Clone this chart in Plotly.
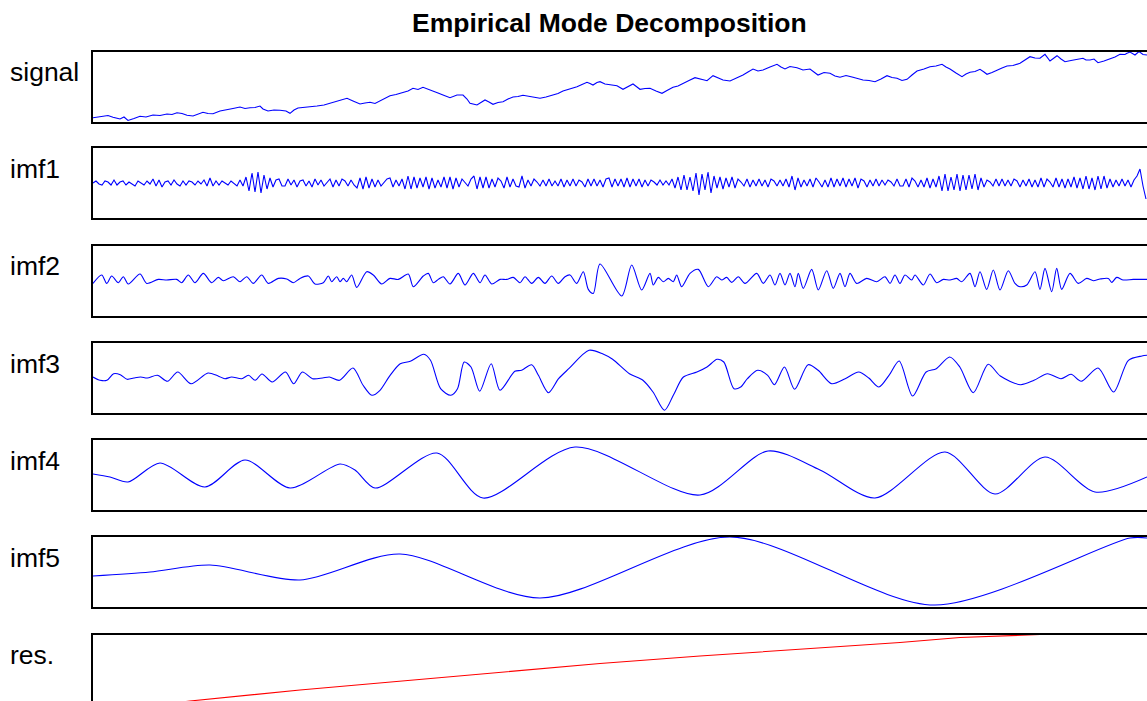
import plotly.graph_objects as go

# ---------------- data ----------------
# time axis in samples; visible window 0..1054
T_MAX = 1054

signal_t = [0, 10, 15, 20, 27, 31, 35, 41, 47, 53, 60, 67, 74, 79, 84, 89, 94, 100, 105, 110,
            115, 120, 127, 134, 140, 147, 152, 157, 162, 167, 170, 175, 181, 187, 193, 197, 201, 205, 212, 218,
            224, 231, 237, 244, 249, 254, 260, 267, 272, 277, 282, 287, 292, 297, 303, 310, 315, 320, 325, 330,
            335, 340, 345, 350, 357, 364, 370, 374, 377, 384, 388, 392, 396, 400, 405, 410, 415, 420, 425, 430,
            437, 442, 447, 453, 460, 465, 470, 477, 484, 489, 494, 497, 500, 504, 507, 512, 517, 524, 530, 535,
            540, 544, 547, 552, 557, 563, 569, 574, 580, 585, 590, 596, 602, 608, 614, 620, 625, 630, 637, 644,
            650, 655, 660, 665, 670, 677, 684, 688, 692, 697, 704, 710, 717, 725, 731, 737, 742, 747, 753, 760,
            765, 770, 776, 782, 788, 794, 799, 804, 809, 814, 819, 824, 831, 837, 843, 849, 853, 857, 863, 869,
            873, 877, 882, 887, 891, 894, 899, 904, 909, 914, 920, 927, 932, 937, 942, 947, 952, 957, 961, 964,
            968, 972, 978, 984, 990, 993, 997, 1001, 1005, 1011, 1017, 1022, 1027, 1032, 1034, 1037, 1042, 1046, 1050, 1054]
signal_v = [-31.2, -30.2, -29, -30.8, -32.5, -30.5, -34, -32, -29.8, -30.5, -28.5, -29, -27.5, -28, -26.2, -27, -28.8, -29.5, -27.5, -25.8,
            -27, -27.2, -24.5, -22.8, -22, -20.5, -22, -21.2, -21, -19.5, -22.5, -24.5, -23.5, -23.8, -24.5, -26.8, -23.5, -21.5, -21, -20,
            -19.5, -18.5, -16.8, -14.5, -13.5, -11.8, -14.5, -17.5, -16.5, -15.8, -17, -14.5, -11.5, -9.2, -8, -6.2, -4.5, -1.8, -3, -0.8,
            -2.5, -4.8, -6.5, -8.5, -11.2, -8.5, -8.5, -12.5, -16.8, -18.5, -16, -13.5, -15.5, -17.8, -16, -15.2, -12.5, -10.5, -10, -8.8,
            -10, -11, -11.8, -10.5, -8.5, -7, -4.5, -2.5, -0.2, 2, 4.2, 3, 1.5, 4, 4.8, 2.5, 1.5, 0.8, -2.8, -0.5,
            2.5, -0.5, -2.8, -2, -1.8, -4.5, -6.8, -4, -0.8, 0.5, 3.2, 6, 8.8, 7.5, 5.8, 10.8, 8.5, 6.5, 5.5, 8.5,
            11.5, 14.5, 17.5, 15.5, 16.5, 19.5, 22.2, 19.5, 17.5, 20, 18.8, 16.5, 17.5, 11.5, 14, 13.2, 10.5, 9.2, 11, 9.2,
            7.5, 6.5, 6, 4.8, 7.5, 10.8, 9, 8.2, 6, 7.2, 11.5, 15.5, 17.5, 19.8, 20.5, 22.2, 19.5, 17.5, 13.5, 9.8,
            12.5, 14.2, 15, 17.2, 14.5, 12.2, 14, 16.5, 18.5, 20.5, 21, 23.2, 26.5, 29.8, 28.5, 28.2, 32.2, 25.5, 28.5, 30.8,
            27.5, 24.8, 26, 27.2, 28.2, 26.5, 26.5, 27.5, 23.8, 25.5, 27.5, 29.5, 32.2, 32, 33.2, 34.5, 31.5, 35, 32, 31.5]

# imf1: uniformly sampled, one value every IMF1_STEP samples
IMF1_STEP = 3
imf1_v = [0, 2, -1, -2, 2, 1, -2, 3, -2, 1,
          2, -2, 1, -1, -3, 2, 0, -2, 2, -1,
          4, -3, 3, -4, 1, 2, -2, 3, -1, -3,
          2, -2, 2, 1, -2, 2, -1, 3, -3, 5,
          -3, 2, -2, 2, 0, -2, 2, -1, -3, 3,
          -3, 6, -8, 10, -9, 11, -10, 8, -6, 5,
          -4, 3, 4, -3, -3, 4, -2, 3, -4, 2,
          3, -3, 2, -4, 4, -2, 3, -3, 1, 4,
          -4, 3, -3, 4, 2, -3, 3, -2, -5, 5,
          -6, 6, -5, 4, -4, 3, -3, 1, 4, 5,
          -4, 3, -3, 4, -6, 7, -6, 6, -5, 5,
          -4, 6, -6, 5, -5, 3, -4, 6, -5, 6,
          -6, 5, -4, 4, 1, -3, 4, 7, -6, 6,
          -5, 6, -5, 4, -4, 5, 2, -5, 6, -4,
          4, -3, -4, 7, -5, 3, -3, 4, 1, -3,
          3, -3, 4, -3, 2, -3, 4, -4, 3, -3,
          4, -3, 3, 1, -4, 4, -3, 4, -3, 3,
          -4, 4, 5, -4, 4, -3, 4, -4, 5, -4,
          4, -3, 4, -4, 3, -3, 3, 1, -2, 3,
          -2, 2, -2, 4, -5, 6, -7, 8, -7, 6,
          -8, 10, -12, 9, -7, 11, -10, 7, -5, 6,
          -6, 5, -4, 6, -5, 4, 1, -3, 4, -4,
          3, -3, 4, -3, 3, -4, 4, 2, -3, 3,
          -3, 4, -4, 7, -7, 5, -4, 3, -3, 4,
          -4, 5, 1, -4, 3, -4, 5, -4, 4, -3,
          5, -4, 4, -3, 5, -5, 4, 2, -4, 3,
          -3, 4, -3, 3, -2, 3, 1, -3, 4, -3,
          -3, 4, -4, 5, 2, -4, 3, -4, 5, -5,
          4, -4, 7, -8, 9, -8, 6, -7, 9, -8,
          8, -7, 8, -6, 9, -7, 5, -4, 3, 1,
          -3, 4, -3, 4, -3, 3, -3, 4, 2, -4,
          3, -3, 4, -4, 3, -4, 5, -4, 4, 1,
          -4, 5, -4, 4, -5, 4, -4, 6, -5, 5,
          -6, 7, -6, 5, -7, 7, -6, 7, -5, 4,
          -4, 3, -3, 4, -3, 3, -4, 3, 7, 14,
          -3, -16]

imf2_t = [0, 8.7, 13.7, 18.7, 25.3, 30.3, 35.3, 47, 53.7, 65.3, 73.7, 83.7, 88.7, 95.3, 102, 110.3, 118.7, 125.3, 130.3, 140.3,
          147, 153.7, 160.3, 168.7, 175.3, 185.3, 193.7, 200.3, 207, 215.3, 222, 230.3, 235.3, 238.7, 243.7, 247, 250.3, 253.7, 258.7, 263.7,
          273.7, 280.3, 288.7, 297, 305.3, 315.3, 320.3, 330.3, 335.3, 340.3, 345.3, 350.3, 357, 365.3, 372, 380.3, 387, 392, 398.7, 407,
          413.7, 420.3, 427, 432, 438.7, 445.3, 452, 458.7, 465.3, 472, 477, 483.7, 490.3, 495.3, 500.3, 507, 528.7, 538.7, 548.7, 557,
          560.3, 565.3, 570.3, 575.3, 580.3, 583.7, 588.7, 597, 605.3, 615.3, 623.7, 628.7, 633.7, 638.7, 645.3, 652, 663.7, 670.3, 677, 682,
          687, 692, 697, 702, 705.3, 710.3, 718.7, 725.3, 733.7, 740.3, 747, 752, 757, 763.7, 773.7, 783.7, 792, 797, 802, 807,
          812, 818.7, 822, 830.3, 837, 843.7, 850.3, 857, 863.7, 868.7, 877, 882, 887, 893.7, 900.3, 907, 915.3, 922, 927, 933.7,
          942, 947, 952, 958.7, 963.7, 968.7, 977, 985.3, 993.7, 1000.3, 1007, 1015.3, 1018.7, 1023.7, 1030.3, 1040.3, 1054]
imf2_v = [-2.7, 5.7, -2.7, 4.7, -2, 4, -3.3, 6.7, -2.7, 1.3, 0.7, 1.3, -2, 5.7, -2, 7.3, -2, 3.3, 0, 4,
          -1, 4, -2.7, 5.7, -2.7, 2.3, 1.7, -2, 2.3, 4.7, -3.3, -2, 4.7, -1, 4, -1, 2.3, -1, 5.7, -6.7,
          9, 5.7, -3.3, 2.3, 1.3, 6.7, -6, 4.7, 7.3, -2, 1.3, 4, -3.3, 7.3, -4.3, 7.3, -2, 5.7, -3.3, 1.3,
          1.3, 3.3, -2, 4, -2.7, 3.3, -2.7, 4.7, -2.7, 4, 5.7, -2.7, 9, -8.7, -12.7, 16.7, -15.3, 15.7, -9.3, 7.3,
          -4.3, 3.3, -1, 2.3, -1, 5.7, -6, 7.3, 11.3, -6, 4, 0.7, 3.3, -1.7, 4, -2.7, 7.3, -2.7, 5.7, -4.3,
          7.3, -4.3, 7.3, -6, 7.3, -7.7, 11.3, -9.3, 10, -7.7, 7.3, -6, 7.3, -2.7, 2.3, -1, 4, -2.7, 5.7, -2.7,
          5.7, 0.7, 5.7, -4.3, 6.7, -2, 1.3, 0.7, 2.3, -1, 7.3, -6, 9, -8.7, 10.7, -9.3, 10, -2.7, -6, -4.3,
          9, -8.7, 12.3, -11, 12.3, -8.7, 7.3, -2.7, 2.3, 0, 1.7, 2.3, -1.7, 3.3, 0.7, 1.3, 1.3]

imf3_t = [0, 7.1, 13.9, 20.6, 27.3, 34.1, 40.8, 47.6, 54.3, 64.4, 74.5, 84.7, 98.1, 115, 125.1, 131.9, 138.6, 148.7, 155.5, 162.2,
          169, 179.1, 192.5, 200.6, 209.4, 219.5, 229.6, 236.4, 246.5, 260, 270.1, 278.9, 287, 297.1, 307.2, 317.3, 330.8, 337.5, 347.6, 357.8,
          364.5, 371.2, 378, 386.7, 398.2, 407, 421.8, 428.6, 438.7, 445.4, 455.5, 465.6, 475.8, 496, 509.5, 519.6, 536.4, 549.9, 560, 571.5,
          580.3, 590.4, 603.9, 614, 624.1, 630.8, 641, 647.7, 654.4, 664.6, 674.7, 681.4, 691.5, 701.6, 715.1, 725.2, 738.7, 752.2, 765.7, 775.8,
          785.9, 796, 806.2, 819.6, 833.1, 843.3, 856.7, 866.8, 880.3, 895.2, 907.3, 927.5, 941, 954.5, 968, 978.1, 988.2, 1005.1, 1020.6, 1035.4,
          1048.9, 1054]
imf3_v = [1, -2.3, -2.3, 4.3, 3.3, -1.3, 0, 1, 0, 2.7, -3.3, 6, -5.7, 5, 2, -0.7, 1, -0.7, 2.7, -2.3,
          4, -4, 6, -5.7, 6, -0.7, 0, 1, -2.3, 10, -7.3, -17.3, -12.3, 2.7, 14.3, 16.7, 23.7, 17.7, -10.7, -17.3,
          -10.7, 16, 11, -13.3, 14.3, -12.3, 6.7, 7.7, 13.3, 2.7, -14.7, -0.7, 9.3, 27.7, 24.3, 18.7, 4.3, -2.3, -14, -32.3,
          -17.3, 1, 6, 11, 18.7, 16, -10.7, -9, -0.7, 7.7, 2.7, -6.7, 11, -11.3, 13.3, 7.7, -5.7, -0.7, 6, 0,
          -9, 2.7, 17, -18, 6, 9.3, 21, 11, -14.7, 13.7, 2, -6.7, -2.3, 4.3, -0.7, 3.7, -3.3, 10, -14, 17.7,
          22, 22.7]

imf4_t = [0, 17, 35, 67, 112, 152, 197, 247, 262, 282, 344, 390, 482, 607, 675, 727, 782, 852, 902, 952, 1002, 1054]
imf4_v = [1, -2, -7, 12, -12, 15, -13, 11, 5, -13, 22, -23, 28, -20, 24, 5, -23, 23, -19, 18, -17, -2]

imf5_t = [0, 57, 117, 207, 307, 447, 637, 842, 1037, 1054]
imf5_v = [-4, 0, 7, -8, 18, -26, 35, -33, 34, 34]

res_t = [0, 97, 207, 307, 407, 507, 607, 707, 807, 867, 917, 947, 1054]
res_v = [-44.5, -31.5, -20.5, -11.5, -2.5, 6, 13.5, 20.5, 27, 32, 34, 35, 35]

labels = ["signal", "imf1", "imf2", "imf3", "imf4", "imf5", "res."]
title_text = "Empirical Mode Decomposition"

# ---------------- layout geometry (page pixels) ----------------
W, H = 1147, 701
LEFT = 93
PANEL_TOPS = [51.5, 148, 245.7, 343, 440, 537, 634.5]
PANEL_H = 70
HALF = 35

series = [
    (signal_t, signal_v, "blue", "linear"),
    ([IMF1_STEP * i for i in range(len(imf1_v))], imf1_v, "blue", "linear"),
    (imf2_t, imf2_v, "blue", "spline"),
    (imf3_t, imf3_v, "blue", "spline"),
    (imf4_t, imf4_v, "blue", "spline"),
    (imf5_t, imf5_v, "blue", "spline"),
    (res_t, res_v, "red", "linear"),
]

fig = go.Figure()
layout = dict(
    width=W, height=H,
    margin=dict(l=0, r=0, t=0, b=0),
    paper_bgcolor="white", plot_bgcolor="white",
    showlegend=False,
    font=dict(family="Liberation Sans, Arial, sans-serif", color="black"),
)
annotations = []
for i, (t, v, col, shape) in enumerate(series):
    n = i + 1
    xa = "x" if n == 1 else f"x{n}"
    ya = "y" if n == 1 else f"y{n}"
    fig.add_trace(go.Scatter(x=t, y=v, mode="lines", xaxis=xa, yaxis=ya,
                             line=dict(color=col, width=1.1, shape=shape, smoothing=0.8),
                             hoverinfo="skip"))
    top = PANEL_TOPS[i]
    bottom = min(top + PANEL_H, H)
    dom = [1 - bottom / H, 1 - top / H]
    yr = [HALF - (bottom - top), HALF]
    last = (n == len(series))
    layout[f"xaxis{n}"] = dict(domain=[LEFT / W, 1], range=[0, T_MAX], anchor=ya,
                               showticklabels=False, ticks="", showgrid=False, zeroline=False,
                               showline=True, linecolor="black", linewidth=2,
                               mirror=(not last), side=("top" if last else "bottom"))
    layout[f"yaxis{n}"] = dict(domain=dom, range=yr, anchor=xa,
                               showticklabels=False, ticks="", showgrid=False, zeroline=False,
                               showline=True, linecolor="black", linewidth=2, mirror=False)
    annotations.append(dict(text=labels[i], xref="paper", yref="paper",
                            x=8 / W, y=1 - (top + 20.5) / H, xanchor="left", yanchor="middle",
                            showarrow=False, font=dict(size=26.5, color="black")))

annotations.append(dict(text=f"<b>{title_text}</b>", xref="paper", yref="paper",
                        x=609 / W, y=1 - 23 / H, xanchor="center", yanchor="middle",
                        showarrow=False, font=dict(size=26.5, color="black")))
layout["annotations"] = annotations
fig.update_layout(**layout)

# remove the browser's default page margin so the figure sits at the window origin
page_css = ("document.body.style.margin='0';"
            "document.body.style.overflow='hidden';"
            "document.documentElement.style.overflow='hidden';")
fig.write_html("out.html", post_script=page_css,
               config={"displayModeBar": False, "staticPlot": True})
